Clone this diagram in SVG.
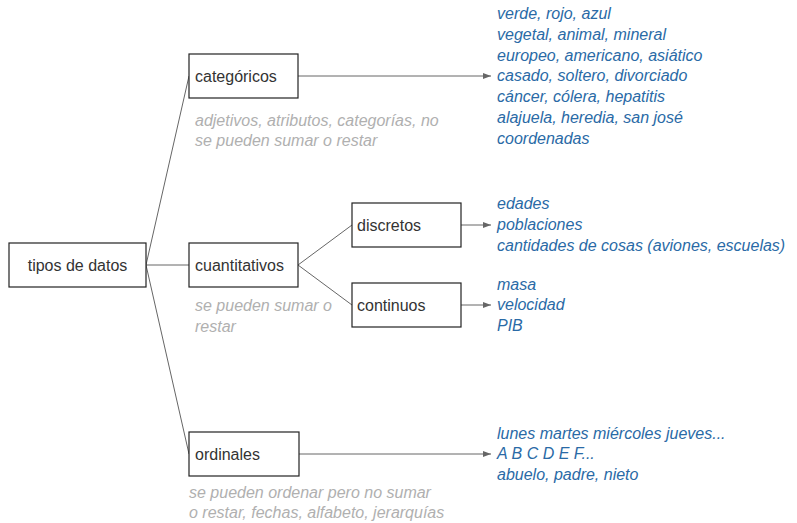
<svg xmlns="http://www.w3.org/2000/svg" width="797" height="523" viewBox="0 0 797 523">
<style>
.box{fill:#fff;stroke:#222;stroke-width:1.2}
.lbl{font-family:"Liberation Sans",Arial,sans-serif;font-size:16px;fill:#333}
.note{font-family:"Liberation Sans",Arial,sans-serif;font-size:16px;font-style:italic;fill:#b0b0b0}
.ex{font-family:"Liberation Sans",Arial,sans-serif;font-size:16px;font-style:italic;fill:#2a6aa6}
.c{stroke:#666;stroke-width:1;fill:none}
.a{marker-end:url(#arr)}
</style>
<defs>
<marker id="arr" viewBox="0 0 8 6" refX="8" refY="3" markerWidth="8" markerHeight="6" markerUnits="userSpaceOnUse" orient="auto">
<path d="M0,0 L8,3 L0,6 Z" fill="#666"/>
</marker>
</defs>
<g id="connectors">
<line class="c" x1="146" y1="265" x2="189" y2="76"/>
<line class="c" x1="146" y1="265" x2="189" y2="265"/>
<line class="c" x1="146" y1="265" x2="189" y2="454"/>
<line class="c" x1="298" y1="265" x2="352" y2="225"/>
<line class="c" x1="298" y1="265" x2="352" y2="305"/>
<line class="c a" x1="298" y1="76" x2="491" y2="76"/>
<line class="c a" x1="461" y1="225" x2="491" y2="225"/>
<line class="c a" x1="461" y1="305" x2="491" y2="305"/>
<line class="c a" x1="299" y1="454" x2="491" y2="454"/>
</g>
<g id="tipos">
<rect class="box" x="9" y="243" width="137" height="44"/>
<text class="lbl" x="77.5" y="271" text-anchor="middle">tipos de datos</text>
</g>
<g id="categoricos">
<rect class="box" x="189" y="54" width="109" height="44"/>
<text class="lbl" x="195" y="82">categóricos</text>
</g>
<g id="cuantitativos">
<rect class="box" x="189" y="243" width="109" height="44"/>
<text class="lbl" x="195" y="271">cuantitativos</text>
</g>
<g id="discretos">
<rect class="box" x="352" y="203" width="109" height="44"/>
<text class="lbl" x="357" y="231">discretos</text>
</g>
<g id="continuos">
<rect class="box" x="352" y="283" width="109" height="44"/>
<text class="lbl" x="357" y="311">continuos</text>
</g>
<g id="ordinales">
<rect class="box" x="189" y="432" width="110" height="44"/>
<text class="lbl" x="195" y="460">ordinales</text>
</g>
<g id="notes">
<text class="note" x="195" y="126">adjetivos, atributos, categorías, no</text>
<text class="note" x="195" y="146">se pueden sumar o restar</text>
<text class="note" x="195" y="311">se pueden sumar o</text>
<text class="note" x="195" y="332">restar</text>
<text class="note" x="189" y="498">se pueden ordenar pero no sumar</text>
<text class="note" x="189" y="518">o restar, fechas, alfabeto, jerarquías</text>
</g>
<g id="examples">
<text class="ex" x="497" y="19">verde, rojo, azul</text>
<text class="ex" x="497" y="40">vegetal, animal, mineral</text>
<text class="ex" x="497" y="61">europeo, americano, asiático</text>
<text class="ex" x="497" y="81">casado, soltero, divorciado</text>
<text class="ex" x="497" y="102">cáncer, cólera, hepatitis</text>
<text class="ex" x="497" y="123">alajuela, heredia, san josé</text>
<text class="ex" x="497" y="144">coordenadas</text>
<text class="ex" x="497" y="209">edades</text>
<text class="ex" x="497" y="230">poblaciones</text>
<text class="ex" x="497" y="251">cantidades de cosas (aviones, escuelas)</text>
<text class="ex" x="497" y="290">masa</text>
<text class="ex" x="497" y="310">velocidad</text>
<text class="ex" x="497" y="331">PIB</text>
<text class="ex" x="497" y="439">lunes martes miércoles jueves...</text>
<text class="ex" x="497" y="459">A B C D E F...</text>
<text class="ex" x="497" y="480">abuelo, padre, nieto</text>
</g>
</svg>
